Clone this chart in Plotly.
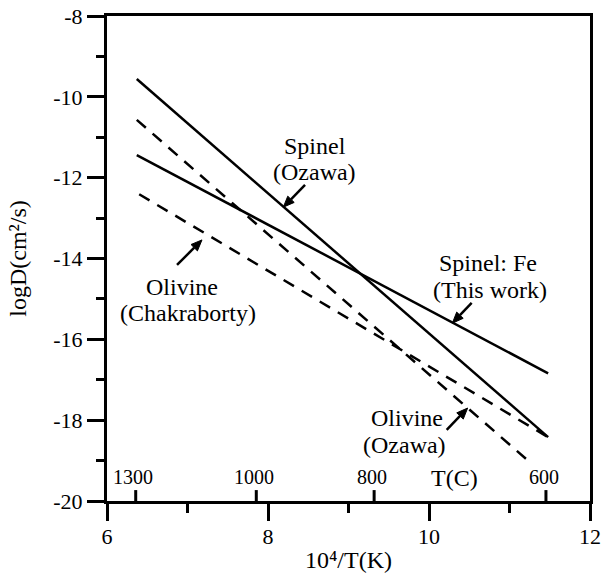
import math
import plotly.graph_objects as go

# ---- data ----
spinel_fe_x = [6.37, 11.48]
spinel_fe_y = [-11.44, -16.84]
spinel_ozawa_x = [6.37, 11.48]
spinel_ozawa_y = [-9.56, -18.42]
olivine_ozawa_x = [6.37, 11.23]
olivine_ozawa_y = [-10.57, -19.00]
olivine_chak_x = [6.40, 11.48]
olivine_chak_y = [-12.41, -18.42]

temp_c = [1300, 1000, 800, 600]
temp_labels = ["1300", "1000", "800", "600"]

x_ticks = [6, 8, 10, 12]
y_ticks = [-20, -18, -16, -14, -12, -10, -8]

FONT = "Liberation Serif"
W, H = 601, 574
ML, MR, MT, MB = 107, 11, 16, 73
XR = [6, 12]
YR = [-20, -8]
PW, PH = W - ML - MR, H - MT - MB


def to_px(x, y):
    return (ML + (x - XR[0]) / (XR[1] - XR[0]) * PW,
            MT + (YR[1] - y) / (YR[1] - YR[0]) * PH)


def to_data(px, py):
    return (XR[0] + (px - ML) / PW * (XR[1] - XR[0]),
            YR[1] - (py - MT) / PH * (YR[1] - YR[0]))


fig = go.Figure()

line_style = dict(color="black", width=2.5)
dash_style = dict(color="black", width=2.5, dash="12px,9px")
fig.add_trace(go.Scatter(x=spinel_ozawa_x, y=spinel_ozawa_y, mode="lines", line=line_style, name="Spinel (Ozawa)"))
fig.add_trace(go.Scatter(x=spinel_fe_x, y=spinel_fe_y, mode="lines", line=line_style, name="Spinel: Fe"))
fig.add_trace(go.Scatter(x=olivine_ozawa_x, y=olivine_ozawa_y, mode="lines", line=dash_style, name="Olivine (Ozawa)"))
fig.add_trace(go.Scatter(x=olivine_chak_x, y=olivine_chak_y, mode="lines", line=dash_style, name="Olivine (Chakraborty)"))

# temperature scale (inside ticks on the bottom axis)
for t, lab in zip(temp_c, temp_labels):
    xv = 1e4 / (t + 273.15)
    fig.add_shape(type="line", x0=xv, x1=xv, y0=-20, y1=-19.73, xref="x", yref="y",
                  line=dict(color="black", width=3))
    fig.add_annotation(x=xv - 0.03, y=-19.41, text=lab, showarrow=False, xref="x", yref="y",
                       font=dict(family=FONT, size=20, color="black"))
fig.add_annotation(x=10.32, y=-19.43, text="T(C)", showarrow=False,
                   font=dict(family=FONT, size=24, color="black"))

# labels: (text, x, y) in data units
labels = [
    ("Spinel", 8.58, -11.22),
    ("(Ozawa)", 8.58, -11.87),
    ("Spinel: Fe", 10.73, -14.10),
    ("(This work)", 10.76, -14.79),
    ("Olivine", 6.93, -14.71),
    ("(Chakraborty)", 7.00, -15.36),
    ("Olivine", 9.73, -17.95),
    ("(Ozawa)", 9.70, -18.62),
]
for txt, xx, yy in labels:
    fig.add_annotation(x=xx, y=yy, text=txt, showarrow=False,
                       font=dict(family=FONT, size=24, color="black"))

# arrows: (head_x, head_y, tail_x, tail_y) in data units
arrows = [
    (8.19, -12.73, 8.46, -12.18),
    (10.29, -15.60, 10.53, -15.10),
    (7.18, -13.54, 6.87, -14.16),
    (10.48, -17.70, 10.22, -18.24),
]
HEAD_LEN, HEAD_HALF = 11, 4.5
for hx, hy, tx, ty in arrows:
    hpx, hpy = to_px(hx, hy)
    tpx, tpy = to_px(tx, ty)
    d = math.hypot(hpx - tpx, hpy - tpy)
    ux, uy = (hpx - tpx) / d, (hpy - tpy) / d
    bx, by = hpx - ux * HEAD_LEN, hpy - uy * HEAD_LEN
    p1 = to_data(bx - uy * HEAD_HALF, by + ux * HEAD_HALF)
    p2 = to_data(bx + uy * HEAD_HALF, by - ux * HEAD_HALF)
    sb = to_data(bx, by)
    fig.add_shape(type="line", x0=tx, y0=ty, x1=sb[0], y1=sb[1], xref="x", yref="y",
                  line=dict(color="black", width=2.5))
    path = f"M {hx} {hy} L {p1[0]} {p1[1]} L {p2[0]} {p2[1]} Z"
    fig.add_shape(type="path", path=path, xref="x", yref="y",
                  fillcolor="black", line=dict(color="black", width=1))

axis_common = dict(showline=True, linecolor="black", linewidth=3, mirror=True,
                   ticks="outside", ticklen=17, tickwidth=3, tickcolor="black",
                   showgrid=False, zeroline=False, automargin=False,
                   tickfont=dict(family=FONT, size=22, color="black"))
fig.update_xaxes(range=XR, tickvals=x_ticks, ticktext=[str(v) for v in x_ticks],
                 ticklabelstandoff=-3,
                 minor=dict(tickvals=[7, 9, 11], ticklen=9, tickwidth=3, tickcolor="black", ticks="outside"),
                 title=dict(text="10⁴/T(K)", standoff=3,
                            font=dict(family=FONT, size=24, color="black")),
                 **axis_common)
fig.update_yaxes(range=YR, tickvals=y_ticks, ticktext=[str(v) for v in y_ticks],
                 minor=dict(tickvals=[-19, -17, -15, -13, -11, -9], ticklen=8, tickwidth=3,
                            tickcolor="black", ticks="outside"),
                 title=dict(text="logD(cm²/s)", standoff=20,
                            font=dict(family=FONT, size=24, color="black")),
                 **axis_common)

fig.update_layout(width=W, height=H, margin=dict(l=ML, r=MR, t=MT, b=MB),
                  plot_bgcolor="white", paper_bgcolor="white", showlegend=False,
                  font=dict(family=FONT, color="black"))

fig.write_html("out.html")
